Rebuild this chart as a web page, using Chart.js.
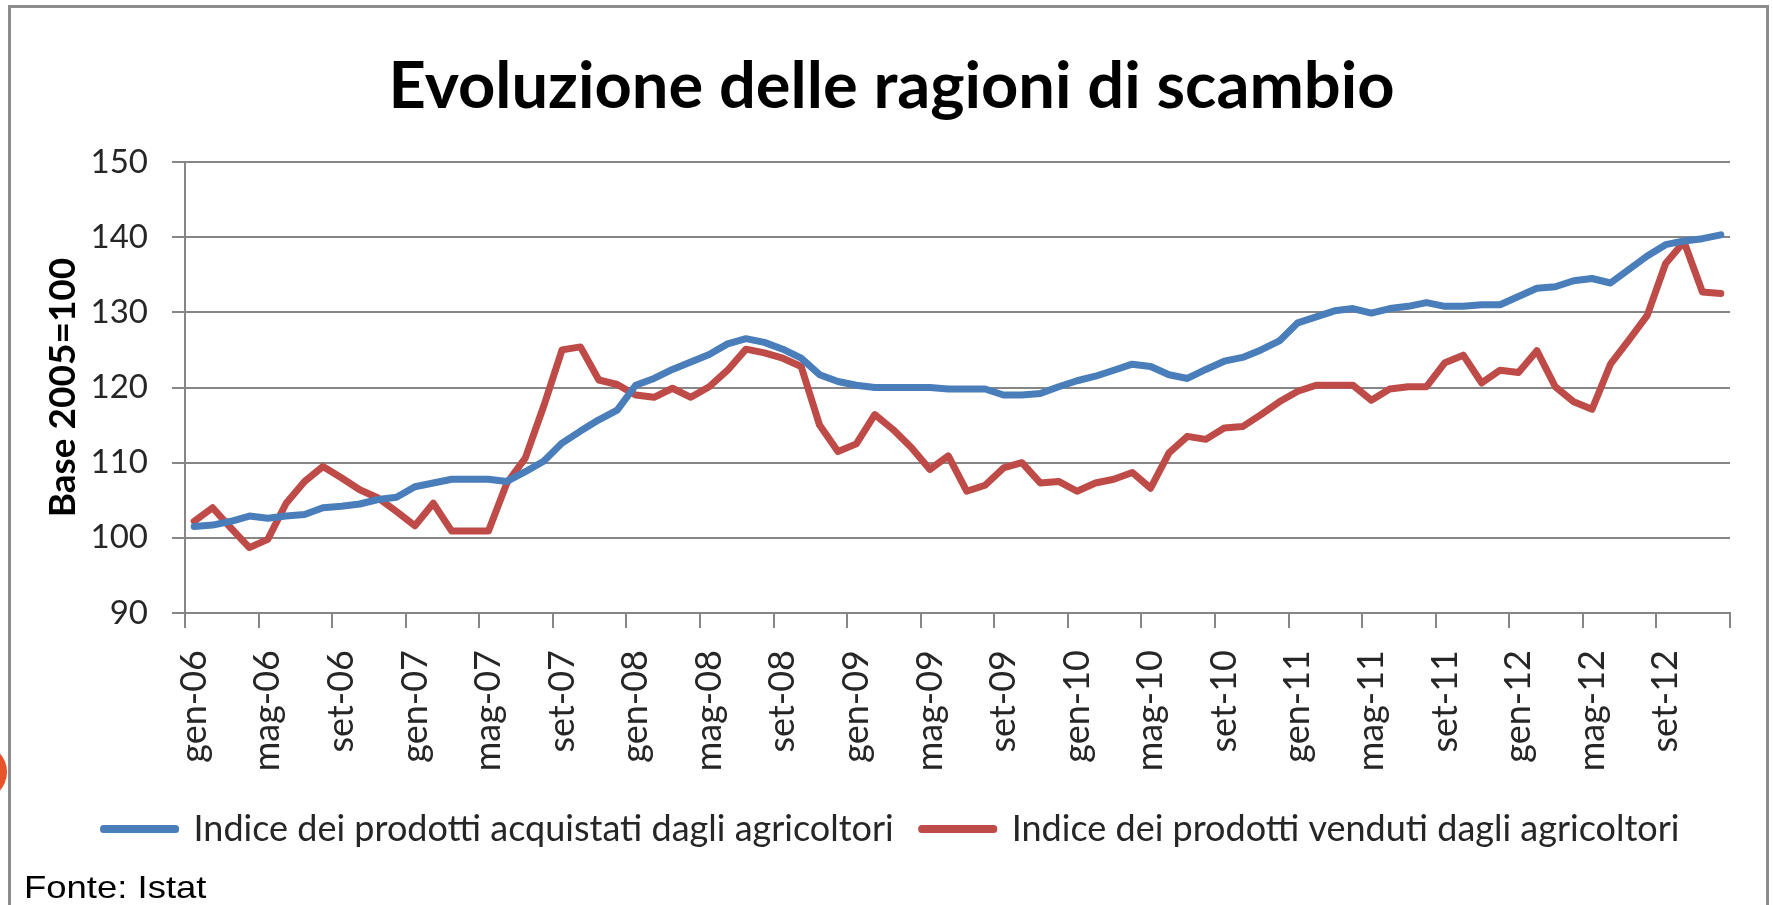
<!DOCTYPE html>
<html>
<head>
<meta charset="utf-8">
<script src="https://cdn.jsdelivr.net/npm/chart.js@4.4.1/dist/chart.umd.min.js"></script>
<style>
  html, body { margin: 0; padding: 0; background: #ffffff; overflow: hidden; }
  #wrap { position: relative; width: 1773px; height: 905px; }
  #frame { position: absolute; left: 8px; top: 5px; width: 1761px; height: 960px; border: 3px solid #8c8c8c; box-sizing: border-box; }
  #deco { position: absolute; left: -26px; top: 744px; width: 33px; height: 56px; border-radius: 0 28px 28px 0; background: #e8542a; }
  #fonte { position: absolute; left: 24px; top: 871px; font-family: 'Liberation Sans', Arial, sans-serif; font-size: 32px; line-height: 32px; color: #000; white-space: nowrap; transform: scaleX(1.14); transform-origin: left top; }
  canvas { position: absolute; left: 0; top: 0; }
</style>
</head>
<body>
<div id="wrap">
  <div id="deco"></div>
  <div id="frame"></div>
  <canvas id="c" width="1773" height="905"></canvas>
  <div id="fonte"></div>
</div>
<script>
const months = [
  "gen-06","feb-06","mar-06","apr-06","mag-06","giu-06","lug-06","ago-06","set-06","ott-06","nov-06","dic-06",
  "gen-07","feb-07","mar-07","apr-07","mag-07","giu-07","lug-07","ago-07","set-07","ott-07","nov-07","dic-07",
  "gen-08","feb-08","mar-08","apr-08","mag-08","giu-08","lug-08","ago-08","set-08","ott-08","nov-08","dic-08",
  "gen-09","feb-09","mar-09","apr-09","mag-09","giu-09","lug-09","ago-09","set-09","ott-09","nov-09","dic-09",
  "gen-10","feb-10","mar-10","apr-10","mag-10","giu-10","lug-10","ago-10","set-10","ott-10","nov-10","dic-10",
  "gen-11","feb-11","mar-11","apr-11","mag-11","giu-11","lug-11","ago-11","set-11","ott-11","nov-11","dic-11",
  "gen-12","feb-12","mar-12","apr-12","mag-12","giu-12","lug-12","ago-12","set-12","ott-12","nov-12","dic-12"
];

const acquistati = [
  101.5,101.7,102.2,102.9,102.6,102.9,103.1,104.0,104.2,104.5,105.1,105.4,
  106.8,107.3,107.8,107.8,107.8,107.5,108.8,110.2,112.6,114.2,115.7,117.0,
  120.3,121.2,122.4,123.4,124.4,125.8,126.5,126.0,125.1,123.9,121.7,120.8,
  120.3,120.0,120.0,120.0,120.0,119.8,119.8,119.8,119.0,119.0,119.2,120.1,
  120.9,121.5,122.3,123.1,122.8,121.7,121.2,122.4,123.5,124.0,125.0,126.2,
  128.6,129.4,130.2,130.5,129.9,130.5,130.8,131.3,130.8,130.8,131.0,131.0,
  132.1,133.2,133.4,134.2,134.5,133.9,135.7,137.5,139.0,139.5,139.8,140.3
];

const venduti = [
  102.2,104.0,101.3,98.7,99.8,104.6,107.5,109.5,108.0,106.4,105.3,103.5,
  101.6,104.6,100.9,100.9,100.9,107.3,110.6,117.5,125.0,125.4,121.0,120.4,
  119.0,118.7,119.9,118.7,120.1,122.3,125.1,124.6,123.9,122.8,115.0,111.5,
  112.5,116.4,114.4,112.0,109.1,110.9,106.2,107.0,109.3,110.0,107.3,107.5,
  106.2,107.3,107.8,108.7,106.6,111.3,113.5,113.1,114.6,114.8,116.4,118.1,
  119.5,120.3,120.3,120.3,118.3,119.8,120.1,120.1,123.3,124.3,120.6,122.3,
  122.0,124.9,120.1,118.1,117.1,123.1,126.3,129.6,136.5,139.4,132.7,132.5
];

const seriesNames = [
  "Indice dei prodotti acquistati dagli agricoltori",
  "Indice dei prodotti venduti dagli agricoltori"
];
const chartTitle = "Evoluzione delle ragioni di scambio";
const yAxisTitle = "Base 2005=100";
const sourceNote = "Fonte: Istat";
const labelEvery = 4;

document.getElementById('fonte').textContent = sourceNote;

const GRID = '#868686';
const BLUE = '#4a7ebb';
const RED = '#be4b48';
const FONT = "Lato, 'Open Sans', sans-serif";

const xGridColor = (c) => (c.index === undefined || c.index % labelEvery === 0) ? GRID : 'rgba(0,0,0,0)';

new Chart(document.getElementById('c'), {
  type: 'line',
  data: {
    labels: months,
    datasets: [
      { label: seriesNames[0], data: acquistati, borderColor: BLUE, backgroundColor: BLUE,
        borderWidth: 7, pointRadius: 0, tension: 0, borderJoinStyle: 'round', borderCapStyle: 'round' },
      { label: seriesNames[1], data: venduti, borderColor: RED, backgroundColor: RED,
        borderWidth: 7, pointRadius: 0, tension: 0, borderJoinStyle: 'round', borderCapStyle: 'round' }
    ]
  },
  options: {
    responsive: false,
    animation: false,
    devicePixelRatio: 1,
    layout: { padding: { left: 40, right: 30, top: 0, bottom: 48 } },
    plugins: {
      tooltip: { enabled: false },
      title: {
        display: true, text: chartTitle, color: '#000000',
        font: { family: FONT, size: 65, weight: 'bold' },
        padding: { top: 48, bottom: 36 }
      },
      legend: {
        display: true, position: 'bottom',
        labels: {
          color: '#262626',
          font: { family: FONT, size: 36 },
          boxWidth: 72, boxHeight: 1, padding: 28
        }
      }
    },
    scales: {
      x: {
        type: 'category',
        offset: true,
        grid: { offset: true, drawOnChartArea: false, drawTicks: true, tickLength: 15,
                color: xGridColor, tickColor: xGridColor, lineWidth: 2 },
        border: { display: true, color: GRID, width: 2 },
        ticks: {
          autoSkip: false, maxRotation: 90, minRotation: 90, padding: 22,
          color: '#262626', font: { family: FONT, size: 36 },
          callback: function (value, index) { return index % labelEvery === 0 ? this.getLabelForValue(value) : ''; }
        },
        afterFit: (s) => { s.height = 170; s.paddingLeft = 0; s.paddingRight = 43; }
      },
      y: {
        min: 90, max: 150,
        grid: { color: GRID, lineWidth: 2, tickLength: 13, drawTicks: true },
        border: { display: true, color: GRID, width: 2 },
        ticks: { stepSize: 10, padding: 24, color: '#262626', font: { family: FONT, size: 33 } },
        title: { display: true, text: yAxisTitle, color: '#000000',
                 font: { family: FONT, size: 37, weight: 'bold' }, padding: { top: 1, bottom: 0 } },
        afterFit: (s) => { s.width = 145; }
      }
    }
  }
});
</script>
</body>
</html>
